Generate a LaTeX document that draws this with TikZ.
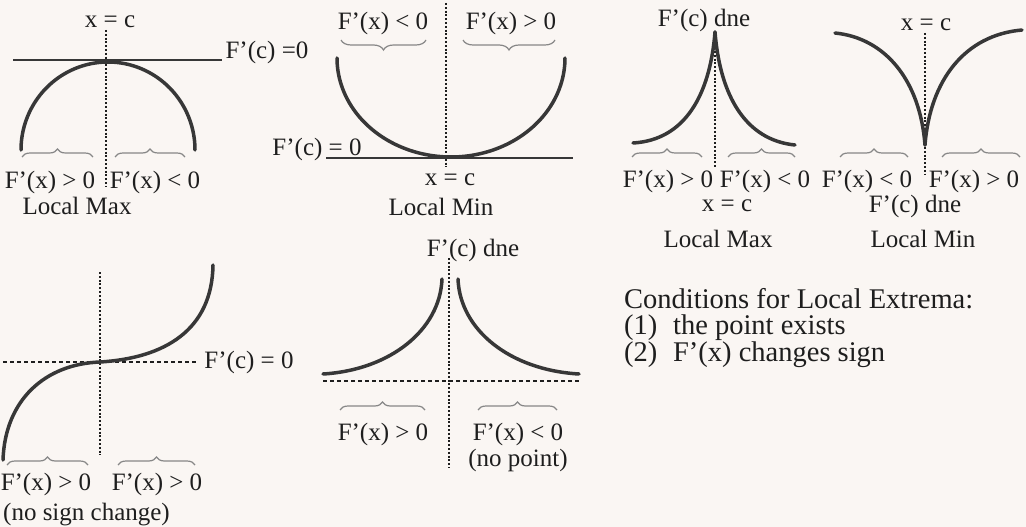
\documentclass[tikz,border=0pt]{standalone}
\usepackage{fontspec}
\setmainfont{Liberation Serif}
\usetikzlibrary{decorations.pathreplacing}
\definecolor{paper}{RGB}{250,246,243}
\definecolor{ink}{RGB}{30,30,30}
\definecolor{curvec}{RGB}{55,55,55}
\definecolor{bracec}{RGB}{135,135,135}
\begin{document}
\begin{tikzpicture}[x=1pt,y=-1pt,
  lbl/.style={font=\fontsize{25}{29}\selectfont, text=ink, inner sep=0pt},
  cond/.style={font=\fontsize{28.5}{26.5}\selectfont, text=ink, inner sep=0pt, anchor=north west, align=left},
  thickcurve/.style={line width=3.5pt, draw=curvec, line cap=round},
  tangent/.style={line width=2.5pt, draw=curvec},
  guide/.style={line width=1.2pt, draw=ink, dash pattern=on 2pt off 1.8pt},
  dashline/.style={line width=1.2pt, draw=ink, dash pattern=on 4pt off 3pt},
  upbrace/.style={draw=bracec, line width=1.2pt, decorate, decoration={brace, amplitude=8pt}},
  downbrace/.style={draw=bracec, line width=1.2pt, decorate, decoration={brace, mirror, amplitude=10pt}}]
\fill[paper] (0,0) rectangle (1026,527);
\useasboundingbox (0,0) rectangle (1026,527);

% ---------- Panel 1: Local Max, F'(c)=0
\coordinate (p1top) at (106,30);
\coordinate (p1bot) at (106,187);
\draw[guide] (p1top) -- (p1bot);
\coordinate (p1l) at (13,60);
\coordinate (p1r) at (222,60);
\draw[tangent] (p1l) -- (p1r);
\draw[thickcurve] plot[domain=180:0,samples=90] ({108+87*cos(\x)},{150-88*sin(\x)});
\node[lbl] (p1xc) at (110,22) {x = c};
\node[lbl] (p1fc) at (267,52) {F’(c) =0};
\coordinate (b1a) at (22,157); \coordinate (b1b) at (93,157);
\draw[upbrace] (b1a) -- (b1b);
\coordinate (b2a) at (115,157); \coordinate (b2b) at (185,157);
\draw[upbrace] (b2a) -- (b2b);
\node[lbl] (p1l1) at (50,182) {F’(x) > 0};
\node[lbl] (p1l2) at (155,182) {F’(x) < 0};
\node[lbl] (p1name) at (77,206) {Local Max};

% ---------- Panel 2: Local Min, F'(c)=0
\coordinate (p2top) at (446,3);
\coordinate (p2bot) at (446,167);
\draw[guide] (p2top) -- (p2bot);
\coordinate (p2l) at (326,158);
\coordinate (p2r) at (573,158);
\draw[tangent] (p2l) -- (p2r);
\draw[thickcurve] plot[domain=0:180,samples=90] ({451-114*cos(\x)},{58+99*sin(\x)});
\node[lbl] (p2l1) at (383,23) {F’(x) < 0};
\node[lbl] (p2l2) at (511,23) {F’(x) > 0};
\coordinate (b3a) at (341,40); \coordinate (b3b) at (426,40);
\draw[downbrace] (b3a) -- (b3b);
\coordinate (b4a) at (463,40); \coordinate (b4b) at (555,40);
\draw[downbrace] (b4a) -- (b4b);
\node[lbl] (p2fc) at (317,149) {F’(c) = 0};
\node[lbl] (p2xc) at (450,180) {x = c};
\node[lbl] (p2name) at (441,207) {Local Min};

% ---------- Panel 3: cusp Local Max
\coordinate (p3top) at (715,32);
\coordinate (p3bot) at (715,168);
\draw[guide] (p3top) -- (p3bot);
\draw[thickcurve] (633,143) .. controls (685,140) and (710,95) .. (p3top);
\draw[thickcurve] (p3top) .. controls (720,95) and (745,140) .. (795,145);
\node[lbl] (p3dne) at (704,20) {F’(c) dne};
\coordinate (b5a) at (632,157); \coordinate (b5b) at (702,157);
\draw[upbrace] (b5a) -- (b5b);
\coordinate (b6a) at (728,157); \coordinate (b6b) at (795,157);
\draw[upbrace] (b6a) -- (b6b);
\node[lbl] (p3l1) at (668,181) {F’(x) > 0};
\node[lbl] (p3l2) at (765,181) {F’(x) < 0};
\node[lbl] (p3xc) at (727,206) {x = c};
\node[lbl] (p3name) at (718,239) {Local Max};

% ---------- Panel 4: cusp Local Min
\coordinate (p4top) at (925,33);
\coordinate (p4bot) at (925,175);
\draw[guide] (p4top) -- (p4bot);
\coordinate (p4cusp) at (925,145);
\draw[thickcurve] (835,33) .. controls (885,38) and (920,80) .. (p4cusp);
\draw[thickcurve] (p4cusp) .. controls (930,80) and (965,35) .. (1022,30);
\node[lbl] (p4xc) at (926,25) {x = c};
\coordinate (b7a) at (840,157); \coordinate (b7b) at (908,157);
\draw[upbrace] (b7a) -- (b7b);
\coordinate (b8a) at (942,157); \coordinate (b8b) at (1020,157);
\draw[upbrace] (b8a) -- (b8b);
\node[lbl] (p4l1) at (867,181) {F’(x) < 0};
\node[lbl] (p4l2) at (974,181) {F’(x) > 0};
\node[lbl] (p4dne) at (915,206) {F’(c) dne};
\node[lbl] (p4name) at (923,239) {Local Min};

% ---------- Panel 5: inflection, no sign change
\coordinate (p5top) at (100,272);
\coordinate (p5bot) at (100,455);
\draw[guide] (p5top) -- (p5bot);
\coordinate (p5l) at (3,362);
\coordinate (p5r) at (197,362);
\draw[dashline] (p5l) -- (p5r);
\coordinate (p5c) at (100,362);
\draw[thickcurve] (3,460) .. controls (5,400) and (45,364) .. (p5c);
\draw[thickcurve] (p5c) .. controls (165,358) and (212,330) .. (213,265);
\node[lbl] (p5fc) at (249,362) {F’(c) = 0};
\coordinate (b9a) at (7,465); \coordinate (b9b) at (88,465);
\draw[upbrace] (b9a) -- (b9b);
\coordinate (b10a) at (118,465); \coordinate (b10b) at (195,465);
\draw[upbrace] (b10a) -- (b10b);
\node[lbl] (p5l1) at (46,484) {F’(x) > 0};
\node[lbl] (p5l2) at (157,484) {F’(x) > 0};
\node[lbl, anchor=west] (p5note) at (3,515) {(no sign change)};

% ---------- Panel 6: no point
\coordinate (p6top) at (449,258);
\coordinate (p6bot) at (449,468);
\draw[guide] (p6top) -- (p6bot);
\coordinate (p6l) at (323,381);
\coordinate (p6r) at (579,381);
\draw[dashline] (p6l) -- (p6r);
\draw[thickcurve] (323,374) .. controls (390,370) and (440,330) .. (442,279);
\draw[thickcurve] (458,279) .. controls (460,330) and (510,370) .. (579,374);
\node[lbl] (p6dne) at (473,250) {F’(c) dne};
\coordinate (b11a) at (340,410); \coordinate (b11b) at (425,410);
\draw[upbrace] (b11a) -- (b11b);
\coordinate (b12a) at (478,410); \coordinate (b12b) at (557,410);
\draw[upbrace] (b12a) -- (b12b);
\node[lbl] (p6l1) at (383,434) {F’(x) > 0};
\node[lbl] (p6l2) at (518,434) {F’(x) < 0};
\node[lbl] (p6note) at (518,460) {(no point)};

% ---------- Conditions
\node[cond] (cond) at (624,288) {Conditions for Local Extrema:\\(1)\hspace{0.55em}the point exists\\(2)\hspace{0.55em}F’(x) changes sign};
\end{tikzpicture}
\end{document}
